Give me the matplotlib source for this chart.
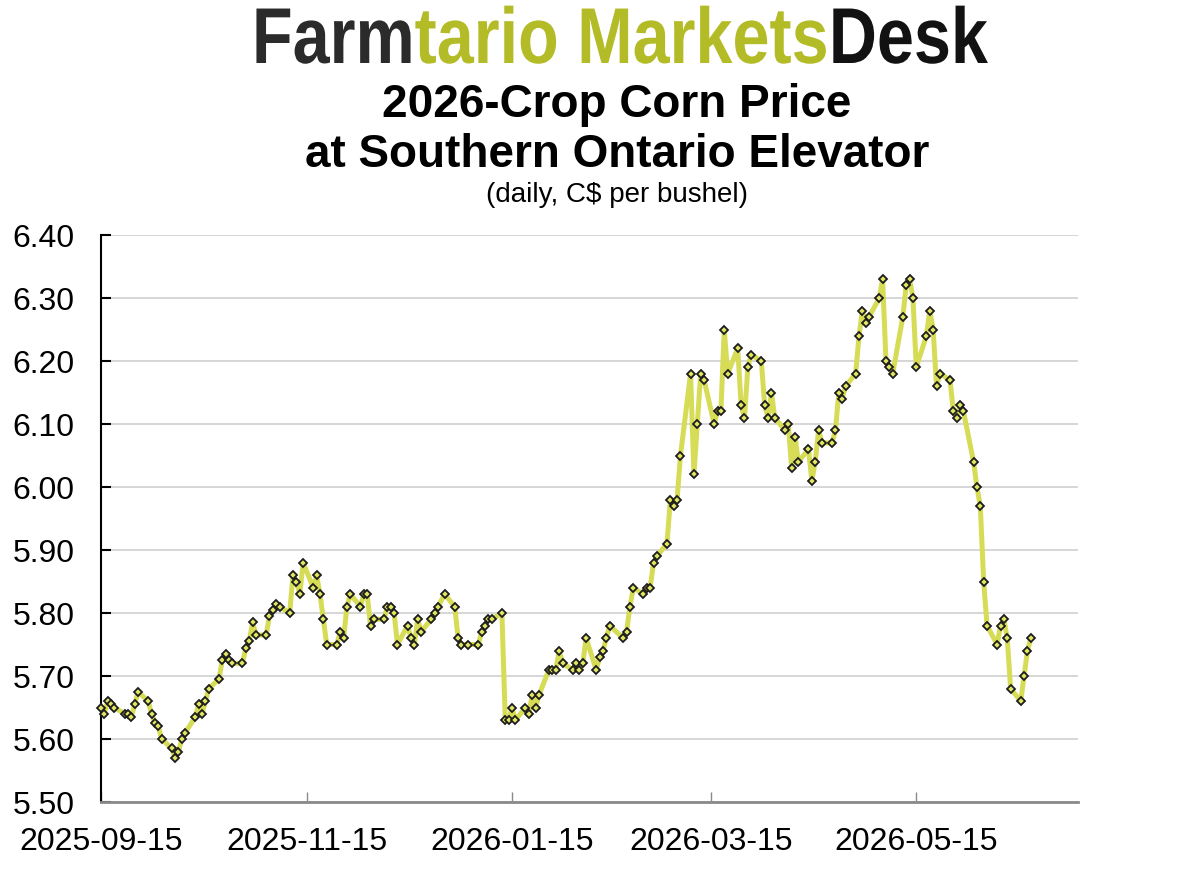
import matplotlib
matplotlib.use('Agg')
import matplotlib.pyplot as plt
import matplotlib.dates as mdates
from matplotlib import patheffects
from matplotlib.transforms import Affine2D
import pandas as pd

# trading days (Mon-Fri, exchange closed on these)
first_day = '2025-09-15'
last_day = '2026-06-18'
closed_days = ['2025-12-25', '2026-01-01', '2026-02-16']

# daily price, C$/bu, one row per week
prices = [
    5.65, 5.64, 5.66, 5.655, 5.65,      # Sep 15
    5.64, 5.64, 5.635, 5.655, 5.675,    # Sep 22
    5.66, 5.64, 5.625, 5.62, 5.60,      # Sep 29
    5.585, 5.57, 5.58, 5.60, 5.61,      # Oct 6
    5.635, 5.655, 5.64, 5.66, 5.68,     # Oct 13
    5.695, 5.725, 5.735, 5.725, 5.72,   # Oct 20
    5.72, 5.745, 5.755, 5.785, 5.765,   # Oct 27
    5.765, 5.795, 5.805, 5.815, 5.81,   # Nov 3
    5.80, 5.86, 5.85, 5.83, 5.88,       # Nov 10
    5.84, 5.86, 5.83, 5.79, 5.75,       # Nov 17
    5.75, 5.77, 5.76, 5.81, 5.83,       # Nov 24
    5.81, 5.83, 5.83, 5.78, 5.79,       # Dec 1
    5.79, 5.81, 5.81, 5.80, 5.75,       # Dec 8
    5.78, 5.76, 5.75, 5.79, 5.77,       # Dec 15
    5.79, 5.80, 5.81, 5.83,             # Dec 22
    5.81, 5.76, 5.75, 5.75,             # Dec 29
    5.75, 5.77, 5.78, 5.79, 5.79,       # Jan 5
    5.80, 5.63, 5.63, 5.65, 5.63,       # Jan 12
    5.65, 5.64, 5.67, 5.65, 5.67,       # Jan 19
    5.71, 5.71, 5.71, 5.74, 5.72,       # Jan 26
    5.71, 5.72, 5.71, 5.72, 5.76,       # Feb 2
    5.71, 5.73, 5.74, 5.76, 5.78,       # Feb 9
    5.76, 5.77, 5.81, 5.84,             # Feb 17
    5.83, 5.84, 5.84, 5.88, 5.89,       # Feb 23
    5.91, 5.98, 5.97, 5.98, 6.05,       # Mar 2
    6.18, 6.02, 6.10, 6.18, 6.17,       # Mar 9
    6.10, 6.12, 6.12, 6.25, 6.18,       # Mar 16
    6.22, 6.13, 6.11, 6.19, 6.21,       # Mar 23
    6.20, 6.13, 6.11, 6.15, 6.11,       # Mar 30
    6.09, 6.10, 6.03, 6.08, 6.04,       # Apr 6
    6.06, 6.01, 6.04, 6.09, 6.07,       # Apr 13
    6.07, 6.09, 6.15, 6.14, 6.16,       # Apr 20
    6.18, 6.24, 6.28, 6.26, 6.27,       # Apr 27
    6.30, 6.33, 6.20, 6.19, 6.18,       # May 4
    6.27, 6.32, 6.33, 6.30, 6.19,       # May 11
    6.24, 6.28, 6.25, 6.16, 6.18,       # May 18
    6.17, 6.12, 6.11, 6.13, 6.12,       # May 25
    6.04, 6.00, 5.97, 5.85, 5.78,       # Jun 1
    5.75, 5.78, 5.79, 5.76, 5.68,       # Jun 8
    5.66, 5.70, 5.74, 5.76,             # Jun 15
]

tick_dates = ['2025-09-15', '2025-11-15', '2026-01-15', '2026-03-15', '2026-05-15']
y_ticks = [5.50, 5.60, 5.70, 5.80, 5.90, 6.00, 6.10, 6.20, 6.30, 6.40]

days = pd.bdate_range(first_day, last_day, freq='C', holidays=closed_days)
if len(days) != len(prices):
    raise ValueError(f'{len(days)} days vs {len(prices)} prices')


class Squeeze(patheffects.AbstractPathEffect):
    """narrow the glyphs horizontally about a fixed pixel x"""
    def __init__(self, sx, x0):
        super().__init__()
        self.sx, self.x0 = sx, x0

    def draw_path(self, renderer, gc, tpath, affine, rgbFace=None):
        squeeze = Affine2D().translate(-self.x0, 0).scale(self.sx, 1).translate(self.x0, 0)
        renderer.draw_path(gc, tpath, affine + squeeze, rgbFace)


plt.rcParams['font.family'] = ['Liberation Sans', 'DejaVu Sans']

fig = plt.figure(figsize=(12, 8.71), dpi=100)
ax = fig.add_axes([101/1200, 1 - 802/871, (1078 - 101)/1200, (802 - 235)/871])

ax.plot(days, prices, color='#d6dc55', lw=3.6, marker='D', ms=3.7,
        mfc='#e0e562', mec='#1c1c1c', mew=1.3, clip_on=False, zorder=3)

ax.set_xlim(pd.Timestamp('2025-09-15'), pd.Timestamp('2026-07-02'))
ax.set_ylim(5.50, 6.40)
ax.set_xticks(pd.to_datetime(tick_dates))
ax.xaxis.set_major_formatter(mdates.DateFormatter('%Y-%m-%d'))
ax.set_yticks(y_ticks)
ax.set_yticklabels([f'{v:.2f}' for v in y_ticks])

ax.grid(axis='y', color='#d3d3d3', lw=1.3, zorder=0)
ax.set_axisbelow(True)
for s in ['top', 'right']:
    ax.spines[s].set_visible(False)
ax.spines['left'].set_color('black')
ax.spines['left'].set_linewidth(1.5)
ax.spines['bottom'].set_color('#8a8a8a')
ax.spines['bottom'].set_linewidth(2)
ax.tick_params(axis='y', direction='in', length=7, width=1.5, color='black',
               labelsize=23, pad=19)
ax.tick_params(axis='x', direction='in', length=7, width=1, color='#8a8a8a',
               labelsize=23, pad=18)

# titles
cx = 617 / 1200
fig.text(cx, 1 - 117/871, '2026-Crop Corn Price', ha='center', va='baseline',
         fontsize=33, fontweight='bold')
fig.text(cx, 1 - 167/871, 'at Southern Ontario Elevator', ha='center', va='baseline',
         fontsize=33, fontweight='bold')
fig.text(cx, 1 - 202/871, '(daily, C$ per bushel)', ha='center', va='baseline',
         fontsize=20)

# masthead: three coloured pieces, condensed to fit its width
parts = [('Farm', '#2b2b2b'), ('tario Markets', '#b3bc27'), ('Desk', '#121212')]
logo_left, logo_width, logo_base = 252, 736, 1 - 63/871
texts = [fig.text(0, logo_base, t, color=c, fontsize=57, fontweight='bold',
                  va='baseline') for t, c in parts]
fig.canvas.draw()
r = fig.canvas.get_renderer()
x = logo_left
for t in texts:
    t.set_x(x / 1200)
    x += t.get_window_extent(r).width
sx = logo_width / (x - logo_left)
for t in texts:
    t.set_path_effects([Squeeze(sx, logo_left)])

fig.savefig('out.png', dpi=100)
